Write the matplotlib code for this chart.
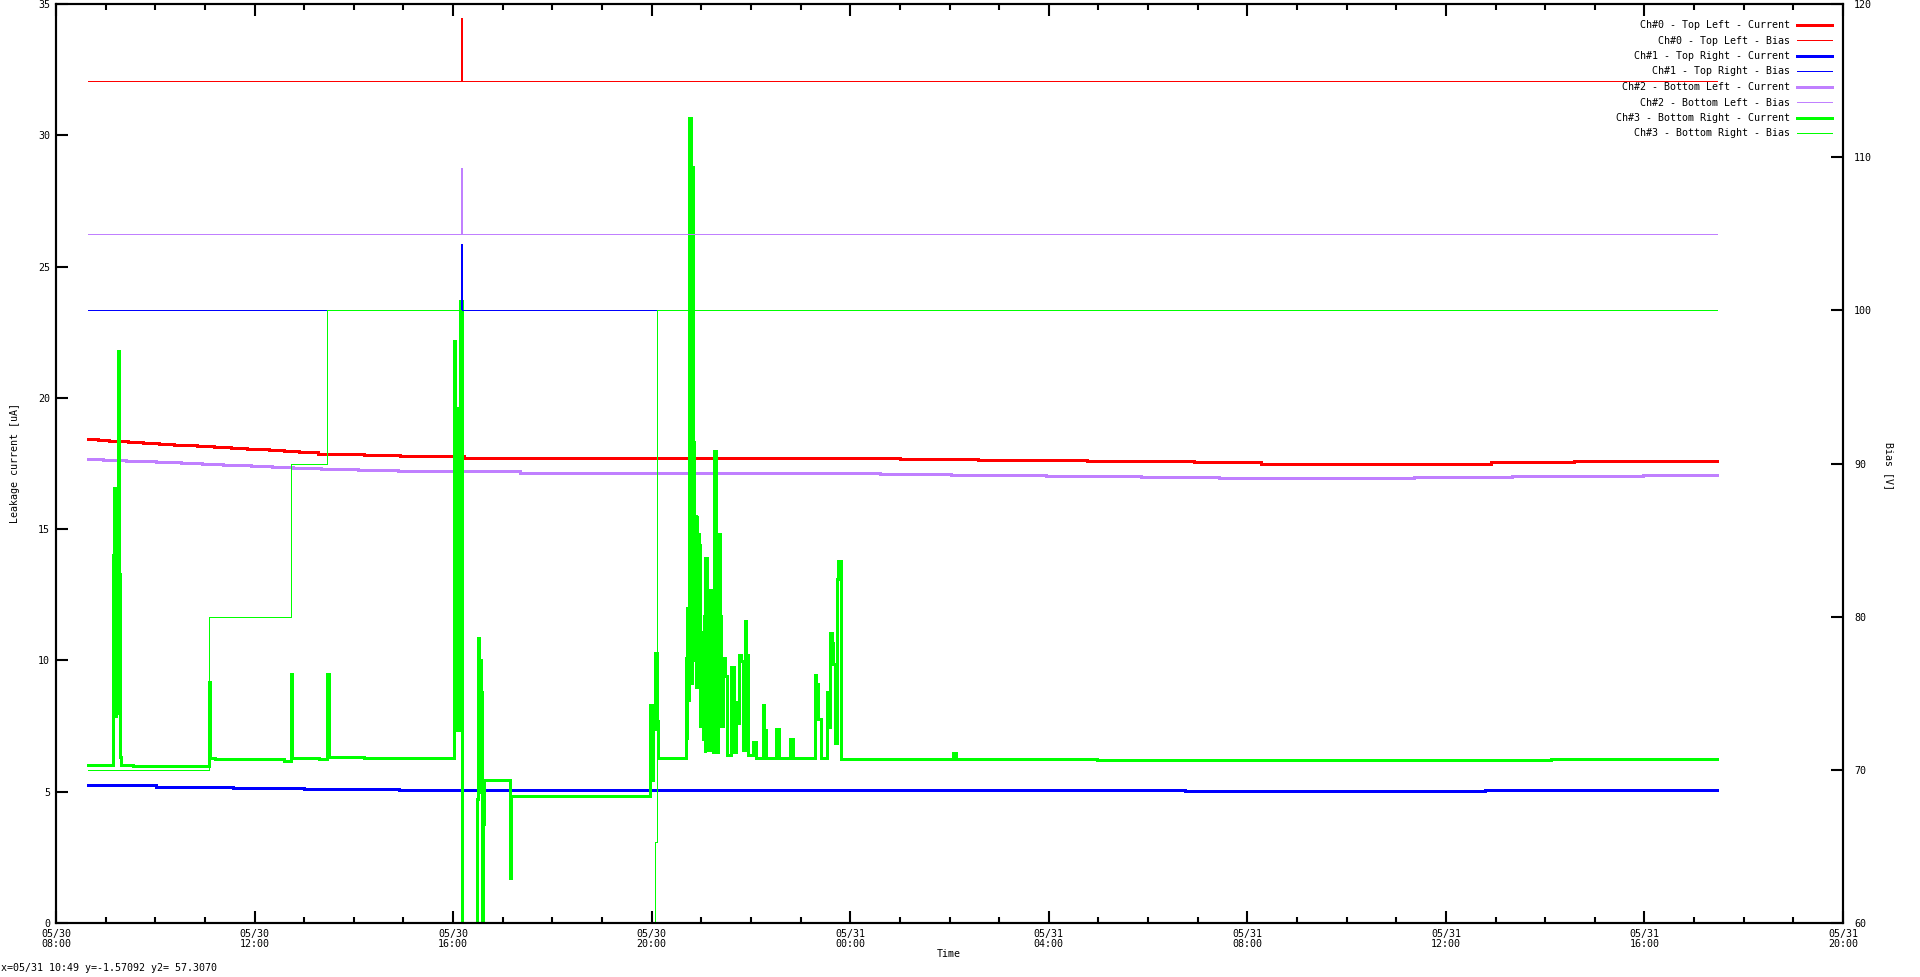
import datetime as dt
import matplotlib
matplotlib.use('Agg')
import matplotlib.pyplot as plt
import matplotlib.dates as mdates
from matplotlib.ticker import MultipleLocator

plt.rcParams['font.family'] = ['DejaVu Sans Mono', 'DejaVu Sans']
plt.rcParams['font.size'] = 7.2
plt.rcParams['lines.antialiased'] = False

T0 = dt.datetime(2012, 5, 30, 8, 0)

# --- datos (horas desde 05/30 08:00) ---
# Ch#0 - Top Left
ch0_cur_h = [0.645, 0.846, 1.068, 1.45, 1.75, 2.07, 2.38, 2.84, 3.18, 3.53, 3.85, 4.29, 4.59, 4.9,
             5.28, 5.76, 6.2, 6.93, 8.22, 15.3, 17.0, 18.57, 20.77, 22.93, 24.27, 28.9, 30.58, 33.12, 33.46]
ch0_cur = [18.42, 18.39, 18.36, 18.31, 18.27, 18.24, 18.20, 18.15, 18.12, 18.08, 18.04, 18.00, 17.96, 17.92,
           17.88, 17.85, 17.81, 17.77, 17.72, 17.70, 17.67, 17.62, 17.58, 17.54, 17.50, 17.54, 17.58, 17.61, 17.61]
ch0_bias_h = [0.645, 8.16, 8.18, 33.46]
ch0_bias = [115, 119.1, 115, 115]

# Ch#1 - Top Right
ch1_cur_h = [0.645, 2.01, 3.57, 5.0, 6.91, 16.4, 22.74, 28.79, 33.46]
ch1_cur = [5.26, 5.19, 5.15, 5.11, 5.08, 5.06, 5.03, 5.06, 5.06]
ch1_bias_h = [0.645, 8.16, 8.18, 33.46]
ch1_bias = [100, 104.3, 100, 100]

# Ch#2 - Bottom Left
ch2_cur_h = [0.645, 0.94, 1.41, 2.01, 2.52, 2.95, 3.36, 3.93, 4.36, 4.77, 5.34, 6.08, 6.88,
             9.35, 16.6, 18.03, 19.94, 21.86, 23.43, 27.36, 29.33, 31.97, 33.46]
ch2_cur = [17.66, 17.62, 17.58, 17.56, 17.52, 17.48, 17.44, 17.39, 17.35, 17.31, 17.28, 17.24, 17.20,
           17.14, 17.10, 17.06, 17.02, 16.98, 16.93, 16.98, 17.02, 17.07, 17.07]
ch2_bias_h = [0.645, 8.16, 8.18, 33.46]
ch2_bias = [105, 109.3, 105, 105]

# Ch#3 - Bottom Right
ch3_cur_h = [0.645, 1.14, 1.155, 1.17, 1.19, 1.20, 1.215, 1.23, 1.245, 1.27, 1.285, 1.31, 1.55,
             3.08, 3.11, 3.20, 4.60, 4.73, 4.76, 5.30, 5.46, 5.49, 6.20,
             8.02, 8.035, 8.045, 8.055, 8.065, 8.075, 8.085, 8.095, 8.105, 8.115, 8.125, 8.135, 8.145, 8.18,
             8.48, 8.495, 8.51, 8.525, 8.54, 8.555, 8.57, 8.585, 8.605, 8.625, 9.15, 9.175,
             11.97, 12.0, 12.03, 12.065, 12.10, 12.13,
             12.69, 12.71, 12.72, 12.735, 12.745, 12.76, 12.79, 12.805, 12.82, 12.84, 12.86, 12.875,
             12.895, 12.905, 12.92, 12.945, 12.97, 12.99, 13.01, 13.035, 13.045, 13.065, 13.07, 13.105,
             13.13, 13.17, 13.205, 13.23, 13.26, 13.295, 13.32, 13.34, 13.37, 13.40, 13.44, 13.48,
             13.52, 13.60, 13.63, 13.645, 13.66, 13.70, 13.735, 13.76, 13.80, 13.84, 13.88, 13.91,
             13.925, 13.95, 14.04, 14.10, 14.24, 14.27, 14.30, 14.50, 14.56, 14.79, 14.85,
             15.29, 15.32, 15.35, 15.41, 15.53, 15.565, 15.59, 15.625, 15.66, 15.70, 15.74, 15.76, 15.81,
             18.07, 18.13, 20.97, 30.12, 33.46]
ch3_cur = [6.02, 14.05, 7.9, 16.58, 7.9, 13.4, 8.0, 14.8, 21.8, 13.3, 6.33, 6.02, 5.97,
           9.19, 6.30, 6.24, 6.18, 9.48, 6.27, 6.24, 9.48, 6.32, 6.28,
           22.16, 7.35, 19.5, 7.4, 19.6, 7.3, 19.5, 7.5, 19.6, 7.3, 19.5, 7.4, 23.7, 0.0,
           4.74, 8.98, 10.85, 5.0, 10.0, 7.8, 8.8, 0.0, 3.77, 5.45, 1.7, 4.85,
           8.3, 5.45, 7.4, 10.3, 7.7, 6.28,
           10.1, 7.0, 12.0, 8.5, 13.6, 30.65, 28.8, 9.1, 28.8, 18.3, 10.0, 15.5,
           9.0, 15.5, 14.8, 14.4, 7.5, 9.0, 11.1, 7.0, 11.7, 6.5, 13.9, 8.0,
           6.6, 12.7, 8.0, 6.5, 17.97, 9.0, 6.5, 14.8, 11.7, 7.5, 10.1, 9.4,
           6.4, 9.75, 7.6, 9.75, 6.5, 8.4, 7.6, 10.2, 9.97, 6.6, 11.5, 8.0,
           10.2, 6.4, 6.9, 6.3, 8.3, 7.35, 6.3, 7.4, 6.3, 7.0, 6.28,
           9.44, 9.1, 7.77, 6.3, 8.8, 7.45, 11.04, 10.66, 9.86, 6.85, 13.1, 13.78, 6.24,
           6.47, 6.24, 6.19, 6.23, 6.23]
ch3_bias_h = [0.645, 3.08, 4.73, 5.46, 8.15, 12.07, 12.11, 33.46]
ch3_bias = [70, 80, 90, 100, 0, 65.3, 100, 100]

labels = ['Ch#0 - Top Left - Current', 'Ch#0 - Top Left - Bias',
          'Ch#1 - Top Right - Current', 'Ch#1 - Top Right - Bias',
          'Ch#2 - Bottom Left - Current', 'Ch#2 - Bottom Left - Bias',
          'Ch#3 - Bottom Right - Current', 'Ch#3 - Bottom Right - Bias']
colors = ['#ff0000', '#0000ff', '#c080ff', '#00ff00']


def to_time(hours):
    return [T0 + dt.timedelta(hours=h) for h in hours]


W, H = 1920, 977
fig = plt.figure(figsize=(W / 100, H / 100), dpi=100)
ax = fig.add_axes([56 / W, 54 / H, (1843 - 56) / W, (923 - 4) / H])
ax2 = ax.twinx()

series = [(ch0_cur_h, ch0_cur, ch0_bias_h, ch0_bias),
          (ch1_cur_h, ch1_cur, ch1_bias_h, ch1_bias),
          (ch2_cur_h, ch2_cur, ch2_bias_h, ch2_bias),
          (ch3_cur_h, ch3_cur, ch3_bias_h, ch3_bias)]
handles = []
for i, (ch, cv, bh, bv) in enumerate(series):
    l1, = ax.plot(to_time(ch), cv, drawstyle='steps-post', color=colors[i], lw=2.1,
                  solid_joinstyle='miter', label=labels[2 * i])
    l2, = ax2.plot(to_time(bh), bv, drawstyle='steps-post', color=colors[i], lw=0.6,
                   label=labels[2 * i + 1])
    handles += [l1, l2]

ax.set_xlim(T0, T0 + dt.timedelta(hours=36))
ax.set_ylim(0, 35)
ax2.set_ylim(60, 120)
ax.yaxis.set_major_locator(MultipleLocator(5))
ax2.yaxis.set_major_locator(MultipleLocator(10))
ax.xaxis.set_major_locator(mdates.HourLocator(byhour=range(0, 24, 4)))
ax.xaxis.set_minor_locator(mdates.HourLocator())
ax.xaxis.set_major_formatter(mdates.DateFormatter('%m/%d\n%H:%M'))

for a in (ax, ax2):
    for s in a.spines.values():
        s.set_linewidth(1.5)
ax.tick_params(axis='x', which='both', direction='in', top=True, bottom=True, width=1.5, pad=4)
ax.tick_params(axis='x', which='major', length=8.6)
ax.tick_params(axis='x', which='minor', length=4.3)
ax.tick_params(axis='y', direction='in', left=True, right=False, length=8.6, width=1.5, pad=4.3)
ax2.tick_params(axis='y', direction='in', left=False, right=True, length=8.6, width=1.5, pad=8)

fig.text(949 / W, 1 - 954 / H, 'Time', ha='center', va='center')
fig.text(15 / W, 1 - 463 / H, 'Leakage current [uA]', ha='center', va='center', rotation=90)
fig.text(1889 / W, 1 - 466 / H, 'Bias [V]', ha='center', va='center', rotation=270)
fig.text(1 / W, 1 - 968 / H, 'x=05/31 10:49 y=-1.57092 y2= 57.3070', ha='left', va='center')

ax2.legend(handles=handles, loc='upper right', bbox_to_anchor=(1832 / W, 1 - 20 / H),
           bbox_transform=fig.transFigure, frameon=False, markerfirst=False,
           borderpad=0, borderaxespad=0, handlelength=3.5, handletextpad=0.7,
           labelspacing=0.55, fontsize=7.2)

fig.canvas.draw()
for t in ax.get_xticklabels():
    t.set_linespacing(1.0)
fig.savefig('out.png', dpi=100)
